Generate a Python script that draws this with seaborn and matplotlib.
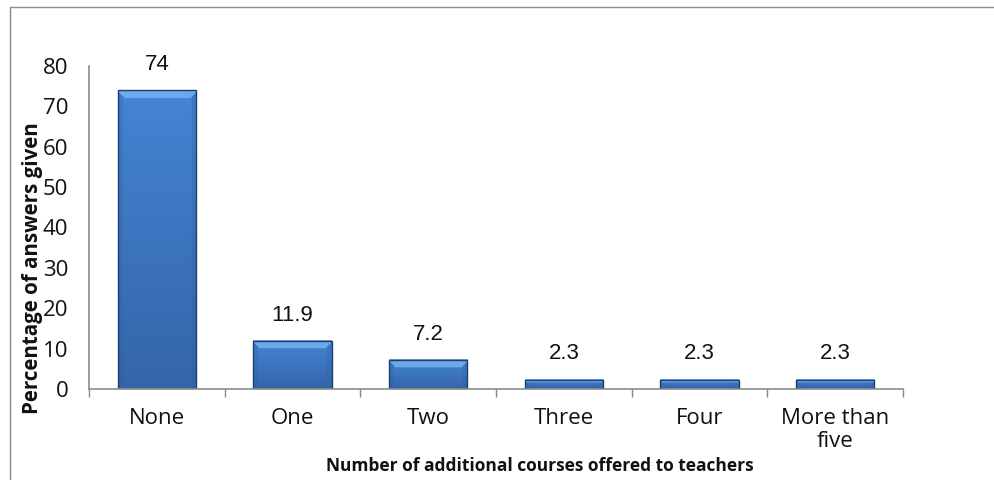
import matplotlib
matplotlib.use("Agg")
import matplotlib.pyplot as plt
import seaborn as sns
import pandas as pd
import numpy as np
from matplotlib.patches import Rectangle
from matplotlib.colors import to_rgb

categories = ["None", "One", "Two", "Three", "Four", "More than\nfive"]
values = [74, 11.9, 7.2, 2.3, 2.3, 2.3]
value_labels = ["74", "11.9", "7.2", "2.3", "2.3", "2.3"]
y_ticks = [0, 10, 20, 30, 40, 50, 60, 70, 80]
x_title = "Number of additional courses offered to teachers"
y_title = "Percentage of answers given"

sns.set_theme(style="white")
plt.rcParams["font.family"] = ["Open Sans", "DejaVu Sans"]

df = pd.DataFrame({"cat": categories, "val": values})

fig = plt.figure(figsize=(9.95, 4.8), dpi=100)
ax = fig.add_axes([89/995, 1-389/480, (903-89)/995, (389-66)/480])

sns.barplot(data=df, x="cat", y="val", ax=ax, color="#3a74bf",
            width=0.575, edgecolor="#1d3f6e", linewidth=1.0, saturation=1)

ax.set_ylim(0, 80)
ax.set_xlim(-0.5, len(categories) - 0.5)

# gradient / bevel shading on each seaborn bar
fig.canvas.draw()
top_c = np.array(to_rgb("#4485d4"))
bot_c = np.array(to_rgb("#3465a8"))
bevel_c = np.array(to_rgb("#6fa8ea"))
side_c = np.array(to_rgb("#2d5a98"))
for p in ax.patches:
    bb = p.get_window_extent()
    w = max(int(round(bb.width)), 2)
    h = max(int(round(bb.height)), 2)
    t = np.linspace(0, 1, h)[:, None, None]
    img = top_c * (1 - t) + bot_c * t
    img = np.broadcast_to(img, (h, w, 3)).copy()
    bev = min(8, max(2, h // 3))
    yy, xx = np.mgrid[0:h, 0:w]
    side = np.minimum(xx, w - 1 - xx)
    side_mask = side < 5
    img[side_mask] = img[side_mask] * 0.75 + side_c * 0.25
    top_mask = (yy < bev) & (yy <= side + 1)
    img[top_mask] = bevel_c
    x0, y0 = p.get_x(), p.get_y()
    ax.imshow(img, extent=[x0, x0 + p.get_width(), y0, y0 + p.get_height()],
              aspect="auto", origin="upper", zorder=p.get_zorder() + 0.1,
              clip_path=p, interpolation="bilinear")
    p.set_facecolor("none")
    p.set_zorder(p.get_zorder() + 0.2)

ax.set_ylim(0, 80)
ax.set_xlim(-0.5, len(categories) - 0.5)
ax.set_yticks(y_ticks)
ax.set_yticklabels([str(t) for t in y_ticks], fontsize=16, color="#111111")
ax.tick_params(axis="y", length=0, pad=15)

ax.set_xticks(range(len(categories)))
ax.set_xticklabels(categories, fontsize=16, color="#111111", linespacing=1.1)
ax.tick_params(axis="x", which="major", length=0, pad=14)
ax.set_xticks([i - 0.5 for i in range(len(categories) + 1)], minor=True)
ax.tick_params(axis="x", which="minor", length=6, width=1, color="#888888",
               direction="out", bottom=True)

for s in ["top", "right"]:
    ax.spines[s].set_visible(False)
for s in ["left", "bottom"]:
    ax.spines[s].set_color("#8c8c8c")
    ax.spines[s].set_linewidth(1.2)
    ax.spines[s].set_zorder(5)

for i, (v, lab) in enumerate(zip(values, value_labels)):
    ax.annotate(lab, (i, v), xytext=(0, 11), textcoords="offset points",
                ha="center", va="bottom", fontsize=16,
                family=["Liberation Sans", "DejaVu Sans"], color="#111111")

ax.set_xlabel(x_title, fontsize=12.5, fontweight="bold", color="#111111")
ax.xaxis.set_label_coords(0.554, -0.212)
ax.set_ylabel(y_title, fontsize=14.8, fontweight="bold", color="#111111")
ax.yaxis.set_label_coords(-0.0565, 0.375)

fig.patches.append(Rectangle((10/995, -0.1), 0.99, 1 - 7/480 + 0.1,
                             transform=fig.transFigure, fill=False,
                             edgecolor="#8c8c8c", linewidth=1.0))

fig.savefig("out.png", dpi=100)
